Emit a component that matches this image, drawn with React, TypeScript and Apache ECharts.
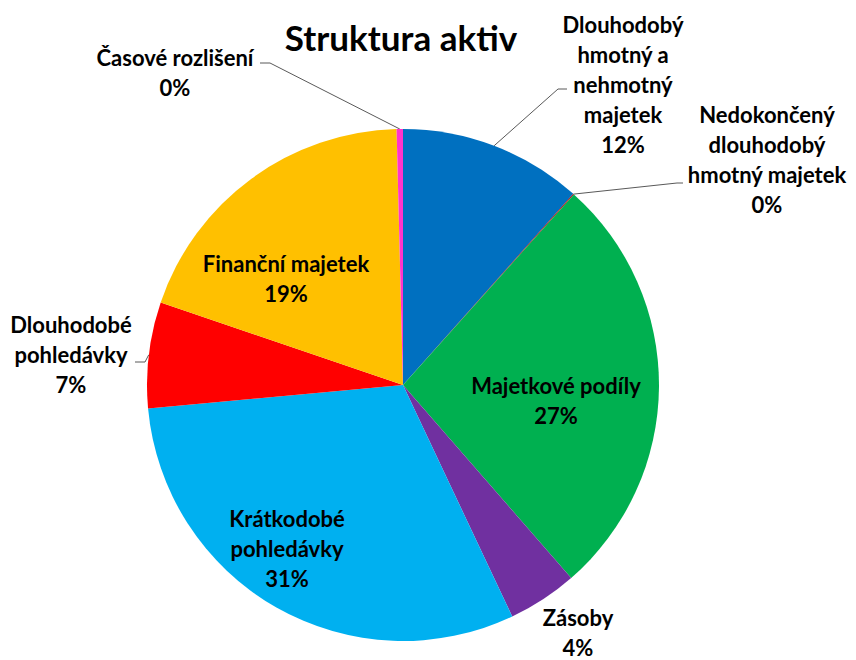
import React, { useEffect, useRef } from "react";
import * as echarts from "echarts";

// ---- data ----
const titleText = "Struktura aktiv";
const categories = [
  "Dlouhodobý hmotný a nehmotný majetek",
  "Nedokončený dlouhodobý hmotný majetek",
  "Majetkové podíly",
  "Zásoby",
  "Krátkodobé pohledávky",
  "Dlouhodobé pohledávky",
  "Finanční majetek",
  "Časové rozlišení",
];
const shares = [11.6, 0.05, 27.0, 4.4, 30.6, 6.7, 19.4, 0.4];
const labelTexts = [
  "Dlouhodobý\nhmotný a\nnehmotný\nmajetek",
  "Nedokončený\ndlouhodobý\nhmotný majetek",
  "Majetkové podíly",
  "Zásoby",
  "Krátkodobé\npohledávky",
  "Dlouhodobé\npohledávky",
  "Finanční majetek",
  "Časové rozlišení",
];

// ---- styles / layout ----
const colors = ["#0070C0", "#C00000", "#00B050", "#7030A0", "#00B0F0", "#FF0000", "#FFC000", "#FF33CC"];
const insideLabel = [false, false, true, false, true, false, true, false];
const showLeader = [true, true, false, false, false, true, false, true];
const labelCenters: number[][] = [
  [623, 84], [767, 159], [556, 400], [578, 632], [287, 548], [71, 354], [286, 278], [175, 72],
];
const leaderTails: (number[][] | null)[] = [
  [[558, 89], [567, 89]],
  [[677, 183], [683, 183]],
  null,
  null,
  null,
  [[145, 362], [135, 362]],
  null,
  [[270, 63], [260, 63]],
];
const FONT = 'Lato, "Noto Sans", "DejaVu Sans", sans-serif';

export default function App() {
  const ref = useRef<HTMLDivElement>(null);
  useEffect(() => {
    if (!ref.current) return;
    const chart = echarts.init(ref.current, undefined, { renderer: "svg" });
    const data = categories.map((name, i) => ({
      name,
      value: shares[i],
      itemStyle: { color: colors[i] },
      label: { position: insideLabel[i] ? "inside" : "outside" },
      labelLine: { show: showLeader[i] },
    }));
    chart.setOption({
      animation: false,
      backgroundColor: "#ffffff",
      graphic: [
        {
          type: "text",
          x: 401,
          y: 37,
          style: {
            text: titleText,
            align: "center",
            verticalAlign: "middle",
            fontFamily: FONT,
            fontWeight: "bold",
            fontSize: 35,
            fill: "#000000",
          },
        },
      ],
      series: [
        {
          type: "pie",
          center: [403, 385],
          radius: 256,
          startAngle: 90,
          clockwise: true,
          avoidLabelOverlap: false,
          data,
          itemStyle: { borderWidth: 0 },
          emphasis: { disabled: true },
          label: {
            show: true,
            color: "#000000",
            fontFamily: FONT,
            fontWeight: "bold",
            fontSize: 22,
            lineHeight: 30,
            align: "center",
            formatter: (p: any) => `${labelTexts[p.dataIndex]}\n${Math.round(p.percent)}%`,
          },
          labelLine: {
            lineStyle: { color: "#595959", width: 1 },
          },
          labelLayout: (params: any) => {
            const i = params.dataIndex;
            const [cx, cy] = labelCenters[i];
            const res: any = { x: cx, y: cy, align: "center", verticalAlign: "middle" };
            const tail = leaderTails[i];
            if (tail && params.labelLinePoints) {
              res.labelLinePoints = [params.labelLinePoints[0], ...tail];
            }
            return res;
          },
        },
      ],
    });
    return () => chart.dispose();
  }, []);
  return (
    <div
      ref={ref}
      style={{ position: "absolute", left: 0, top: 0, width: 856, height: 660 }}
    />
  );
}
